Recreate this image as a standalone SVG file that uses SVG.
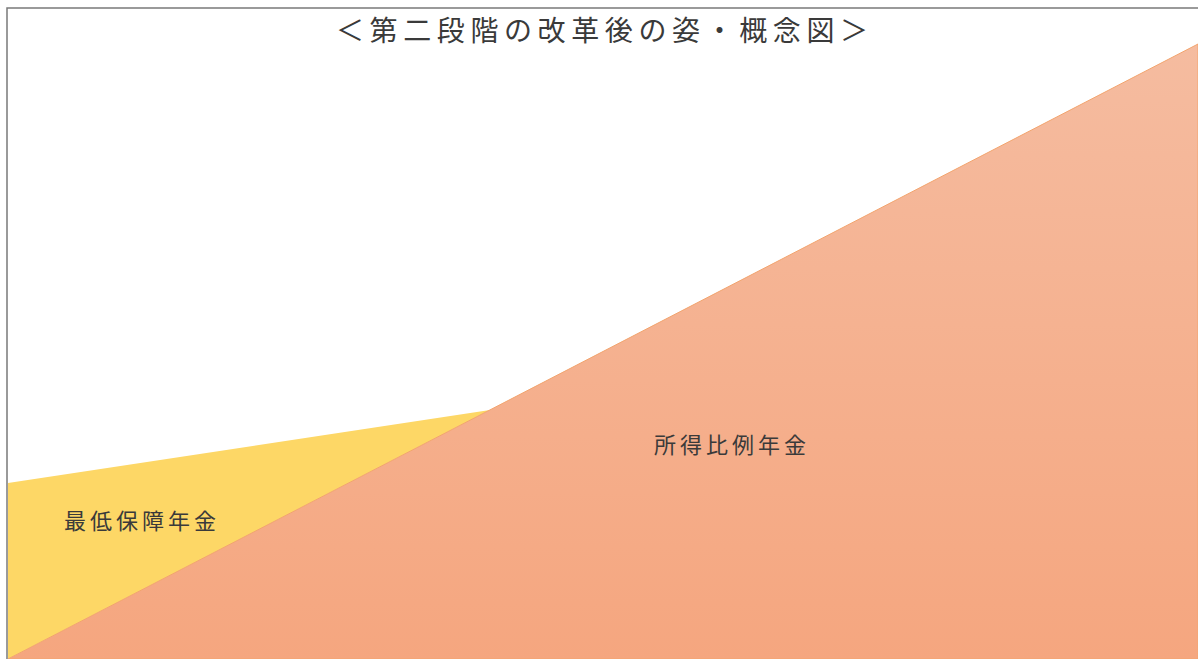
<svg xmlns="http://www.w3.org/2000/svg" width="1198" height="659" viewBox="0 0 1198 659">
<style>
text{font-family:"Noto Sans CJK JP","Noto Sans CJK SC",sans-serif;fill:#3a3a3a}
.lbl{font-size:22px}
</style>
<defs>
<linearGradient id="og" x1="0" y1="0" x2="0" y2="1" gradientUnits="objectBoundingBox">
<stop offset="0" stop-color="#F5BCA0"/>
<stop offset="1" stop-color="#F5A67F"/>
</linearGradient>
</defs>
<rect x="0" y="0" width="1198" height="659" fill="#fff"/>
<g id="min">
<polygon points="8,483 490,410 8,659" fill="#FDD766"/>
</g>
<g id="income">
<polygon points="8,659 1198,44 1198,659" fill="url(#og)" stroke="#F2A46E" stroke-width="1"/>
</g>
<path d="M7,659 V8 H1198" fill="none" stroke="#7a7a7a" stroke-width="1.5"/>
<g id="title"><text x="336" y="41" font-size="28" textLength="532" lengthAdjust="spacing">＜第二段階の改革後の姿・概念図＞</text></g>
<g id="lbl1"><text class="lbl" x="64" y="529" textLength="152" lengthAdjust="spacing">最低保障年金</text></g>
<g id="lbl2"><text class="lbl" x="654" y="453" textLength="152" lengthAdjust="spacing">所得比例年金</text></g>
<g id="connectors"></g>
</svg>
